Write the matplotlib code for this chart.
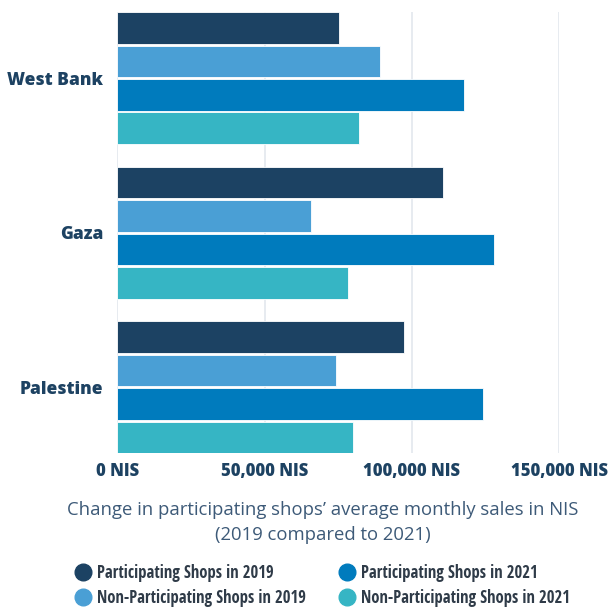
import matplotlib
matplotlib.use("Agg")
import matplotlib.pyplot as plt
from matplotlib.lines import Line2D
from matplotlib import font_manager
import numpy as np

# Data: average monthly sales (NIS)
regions = ["West Bank", "Gaza", "Palestine"]
series_names = [
    "Participating Shops in 2019",
    "Non-Participating Shops in 2019",
    "Participating Shops in 2021",
    "Non-Participating Shops in 2021",
]
part_2019 = [75300, 110500, 97400]
nonpart_2019 = [89200, 65600, 74300]
part_2021 = [117600, 127900, 124100]
nonpart_2021 = [82200, 78300, 79900]
tick_values = [0, 50000, 100000, 150000]
tick_labels = ["0 NIS", "50,000 NIS", "100,000 NIS", "150,000 NIS"]
xlabel_text = "Change in participating shops\u2019 average monthly sales in NIS\n(2019 compared to 2021)"

colors = ["#1c4263", "#4a9fd5", "#007bbd", "#36b5c4"]
label_color = "#1d4262"

plt.rcParams["font.family"] = ["Open Sans", "DejaVu Sans"]

# narrow face for the legend, first one that is installed
installed = {f.name for f in font_manager.fontManager.ttflist}
legend_family = "Open Sans"
for cand in ["Open Sans Condensed", "Roboto Condensed", "Fira Sans Condensed",
             "PT Sans Narrow", "Liberation Sans Narrow", "Barlow Semi Condensed"]:
    if cand in installed:
        legend_family = cand
        break

fig = plt.figure(figsize=(6.11, 6.10), dpi=100)
ax = fig.add_axes([0.192, 0.257, 0.723, 0.723])

series = [part_2019, nonpart_2019, part_2021, nonpart_2021]
step = 0.216
height = 0.205
y = np.arange(len(regions))
for i, (vals, col) in enumerate(zip(series, colors)):
    offs = (i - 1.5) * step
    ax.barh(y + offs, vals, height=height, color=col, edgecolor="white",
            linewidth=0.6, zorder=3)

ax.set_ylim(2 + 1.5 * step + height / 2, -1.5 * step - height / 2)
ax.set_xlim(0, 150000)

ax.set_yticks(y)
ax.set_yticklabels(regions, fontsize=12.5, fontweight=800, color=label_color)
ax.set_xticks(tick_values)
ax.set_xticklabels(tick_labels, fontsize=12, fontweight=800, color=label_color)
ax.tick_params(axis="both", length=0)
ax.tick_params(axis="y", pad=10)
ax.tick_params(axis="x", pad=7)

ax.grid(axis="x", color="#e3e7ee", linewidth=1.2, zorder=0)
for s in ax.spines.values():
    s.set_visible(False)

fig.text(0.528, 0.1435, xlabel_text, ha="center", va="center", fontsize=13.3,
         color="#3d5a78", linespacing=1.5)

handles = [Line2D([0], [0], marker="o", linestyle="none", markersize=12,
                  markerfacecolor=c, markeredgecolor=c) for c in colors]
fig.legend(handles, series_names, ncol=2, loc="center left", bbox_to_anchor=(0.122, 0.040),
           frameon=False, handletextpad=0.34, columnspacing=2.0, labelspacing=0.42,
           borderpad=0, borderaxespad=0,
           prop={"family": [legend_family, "DejaVu Sans"], "size": 12, "weight": 500},
           labelcolor="#2f3b48", handlelength=1.0)

fig.savefig("out.png", dpi=100)
